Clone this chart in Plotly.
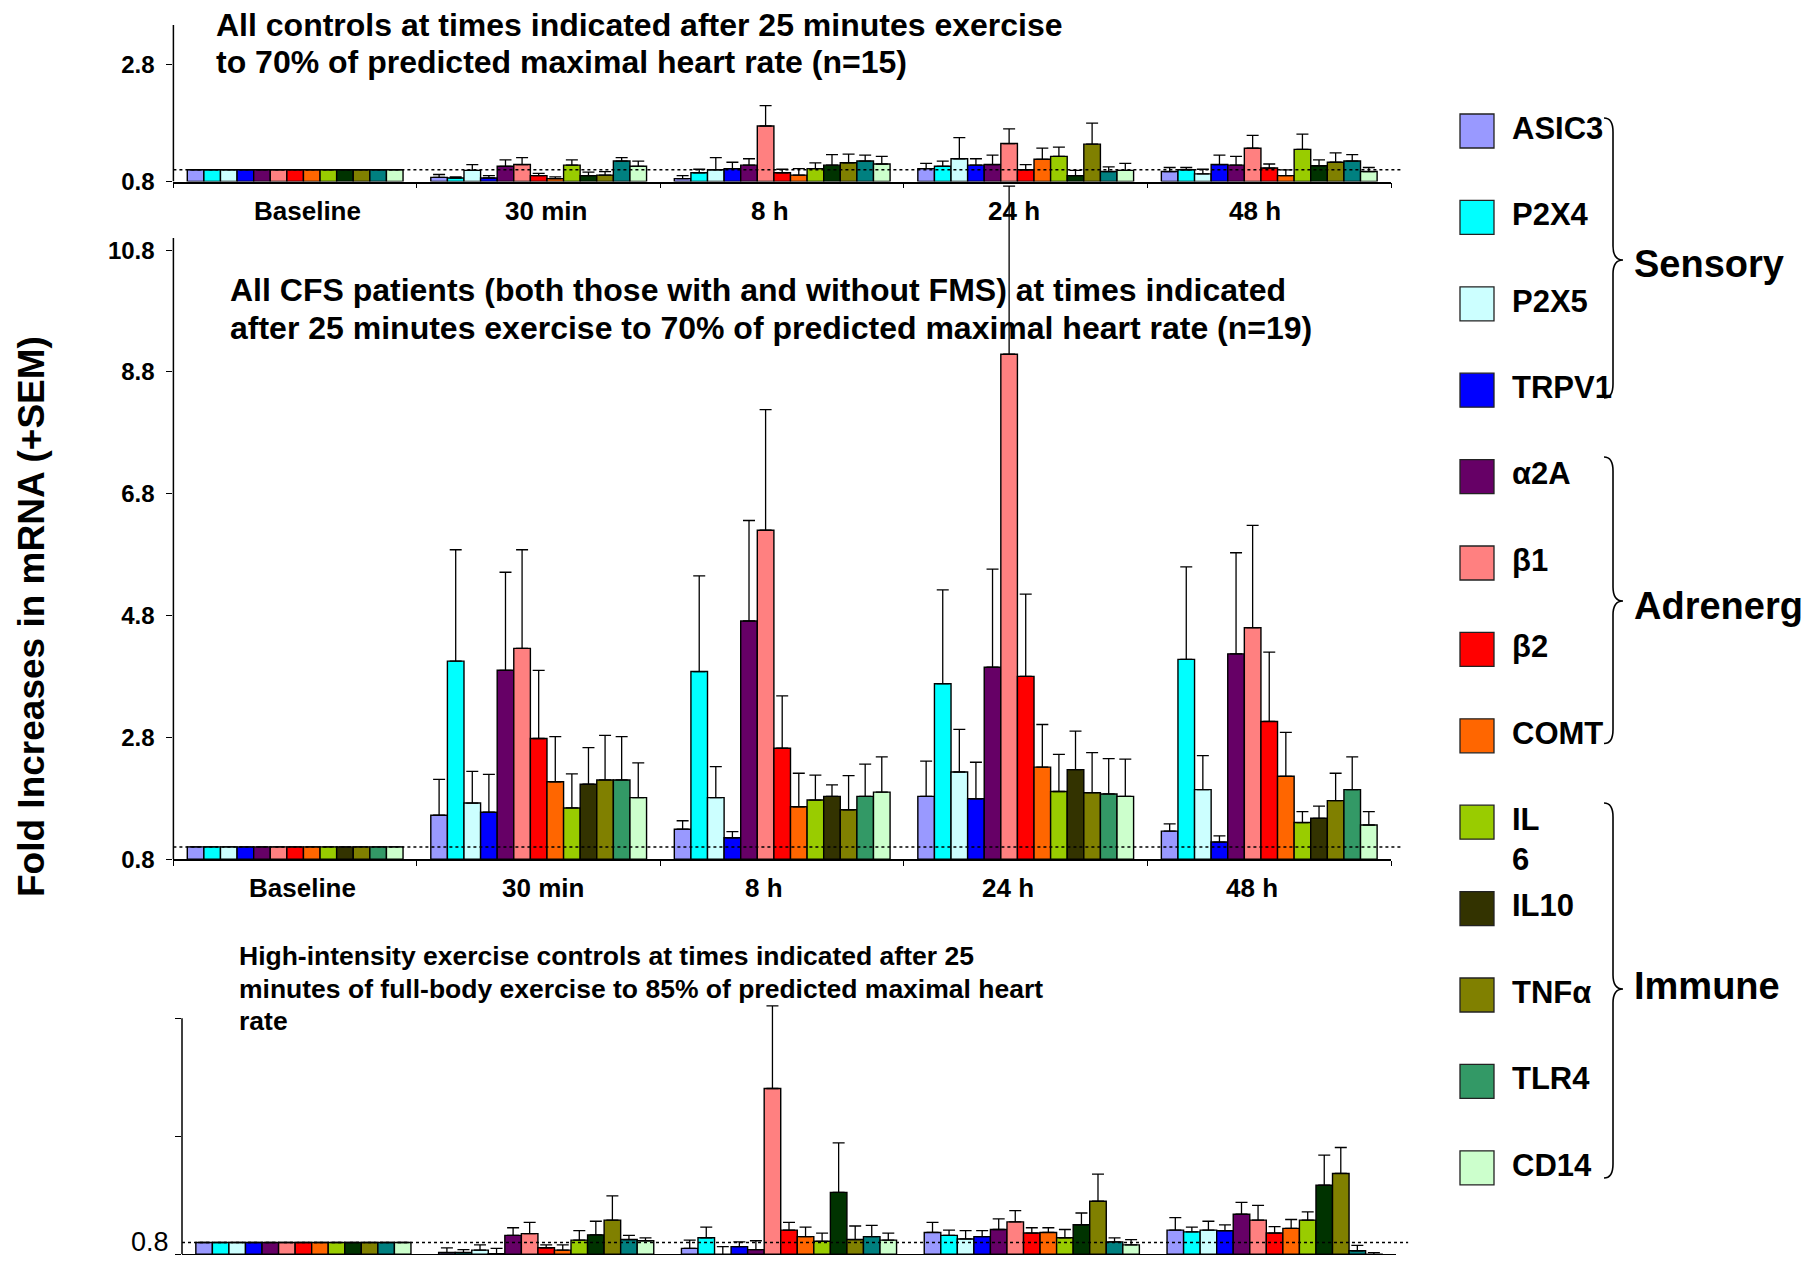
import plotly.graph_objects as go

# screen geometry: the page body has an 8px margin, so the figure is placed at (8, 8)
SCREEN_W, SCREEN_H = 1813, 1263
OFF = 8
W, H = SCREEN_W - OFF, SCREEN_H - 2 * OFF
FONT = "Liberation Sans, Arial, sans-serif"

# ---------------- data ----------------
CATEGORIES = ["Baseline", "30 min", "8 h", "24 h", "48 h"]
GENES = ["ASIC3", "P2X4", "P2X5", "TRPV1", "α2A", "β1", "β2", "COMT",
         "IL6", "IL10", "TNFα", "TLR4", "CD14"]
LEGEND_TEXT = ["ASIC3", "P2X4", "P2X5", "TRPV1", "α2A", "β1", "β2", "COMT",
               "<br>IL<br>6", "IL10", "TNFα", "TLR4", "CD14"]
GROUP_NAMES = ["Sensory", "Adrenergic", "Immune"]

COLORS_CFS = ["#9999FF", "#00FFFF", "#CCFFFF", "#0000FF", "#660066", "#FF8080",
              "#FF0000", "#FF6600", "#99CC00", "#333300", "#808000", "#339966", "#CCFFCC"]
COLORS_CTRL = ["#9999FF", "#00FFFF", "#CCFFFF", "#0000FF", "#660066", "#FF8080",
               "#FF0000", "#FF6600", "#99CC00", "#003300", "#808000", "#008080", "#CCFFCC"]

# rows = genes (order of GENES), columns = CATEGORIES
CTRL_MEAN = [
    [1.0, 0.87, 0.85, 1.02, 0.97],
    [1.0, 0.86, 0.95, 1.06, 1.00],
    [1.0, 0.99, 1.00, 1.19, 0.93],
    [1.0, 0.86, 1.02, 1.08, 1.09],
    [1.0, 1.06, 1.08, 1.09, 1.08],
    [1.0, 1.09, 1.75, 1.45, 1.37],
    [1.0, 0.90, 0.95, 1.00, 1.03],
    [1.0, 0.85, 0.91, 1.18, 0.90],
    [1.0, 1.08, 1.02, 1.23, 1.35],
    [1.0, 0.90, 1.08, 0.90, 1.07],
    [1.0, 0.91, 1.12, 1.44, 1.13],
    [1.0, 1.15, 1.15, 0.97, 1.15],
    [1.0, 1.06, 1.10, 0.99, 0.97],
]
CTRL_SEM = [
    [0, 0.05, 0.05, 0.09, 0.07],
    [0, 0.02, 0.06, 0.09, 0.04],
    [0, 0.10, 0.21, 0.36, 0.08],
    [0, 0.04, 0.11, 0.11, 0.16],
    [0, 0.11, 0.11, 0.16, 0.15],
    [0, 0.12, 0.35, 0.25, 0.22],
    [0, 0.04, 0.06, 0.09, 0.07],
    [0, 0.03, 0.11, 0.19, 0.10],
    [0, 0.09, 0.10, 0.16, 0.26],
    [0, 0.06, 0.18, 0.09, 0.10],
    [0, 0.06, 0.15, 0.36, 0.16],
    [0, 0.06, 0.10, 0.08, 0.11],
    [0, 0.09, 0.13, 0.12, 0.07],
]

CFS_MEAN = [
    [1.0, 1.52, 1.29, 1.83, 1.26],
    [1.0, 4.05, 3.88, 3.68, 4.08],
    [1.0, 1.72, 1.81, 2.23, 1.94],
    [1.0, 1.57, 1.15, 1.79, 1.08],
    [1.0, 3.90, 4.71, 3.95, 4.17],
    [1.0, 4.26, 6.20, 9.09, 4.60],
    [1.0, 2.78, 2.62, 3.80, 3.06],
    [1.0, 2.07, 1.66, 2.31, 2.16],
    [1.0, 1.64, 1.77, 1.91, 1.40],
    [1.0, 2.03, 1.83, 2.27, 1.47],
    [1.0, 2.10, 1.61, 1.89, 1.76],
    [1.0, 2.10, 1.83, 1.87, 1.94],
    [1.0, 1.81, 1.90, 1.83, 1.36],
]
CFS_SEM = [
    [0, 0.59, 0.14, 0.58, 0.12],
    [0, 1.83, 1.57, 1.54, 1.52],
    [0, 0.52, 0.51, 0.70, 0.56],
    [0, 0.62, 0.10, 0.60, 0.10],
    [0, 1.61, 1.65, 1.61, 1.66],
    [0, 1.62, 1.98, 2.76, 1.68],
    [0, 1.12, 0.86, 1.35, 1.14],
    [0, 0.74, 0.55, 0.70, 0.72],
    [0, 0.56, 0.41, 0.61, 0.18],
    [0, 0.60, 0.19, 0.63, 0.20],
    [0, 0.73, 0.56, 0.66, 0.45],
    [0, 0.71, 0.53, 0.58, 0.54],
    [0, 0.57, 0.58, 0.61, 0.22],
]

HI_MEAN = [
    [1.0, 0.83, 0.90, 1.17, 1.21],
    [1.0, 0.83, 1.08, 1.12, 1.18],
    [1.0, 0.87, 0.78, 1.06, 1.21],
    [1.0, 0.81, 0.93, 1.10, 1.20],
    [1.0, 1.12, 0.88, 1.22, 1.48],
    [1.0, 1.15, 3.61, 1.35, 1.38],
    [1.0, 0.91, 1.21, 1.16, 1.16],
    [1.0, 0.87, 1.10, 1.17, 1.24],
    [1.0, 1.04, 1.02, 1.08, 1.38],
    [1.0, 1.13, 1.85, 1.30, 1.97],
    [1.0, 1.38, 1.05, 1.70, 2.17],
    [1.0, 1.05, 1.10, 1.01, 0.86],
    [1.0, 1.03, 1.04, 0.96, 0.76],
]
HI_SEM = [
    [0, 0.08, 0.14, 0.17, 0.21],
    [0, 0.05, 0.18, 0.09, 0.08],
    [0, 0.09, 0.15, 0.14, 0.15],
    [0, 0.09, 0.08, 0.10, 0.10],
    [0, 0.13, 0.15, 0.18, 0.20],
    [0, 0.19, 1.40, 0.19, 0.25],
    [0, 0.05, 0.13, 0.09, 0.11],
    [0, 0.09, 0.16, 0.08, 0.15],
    [0, 0.16, 0.14, 0.14, 0.14],
    [0, 0.23, 0.84, 0.20, 0.51],
    [0, 0.41, 0.23, 0.46, 0.44],
    [0, 0.07, 0.19, 0.07, 0.09],
    [0, 0.05, 0.12, 0.09, 0.07],
]

AXIS_FLOOR = 0.8
REF_LEVEL = 1.0

TITLE_CTRL = ["All controls at times indicated after 25 minutes exercise",
              "to 70% of predicted maximal heart rate (n=15)"]
TITLE_CFS = ["All CFS patients (both those with and without FMS) at times indicated",
             "after 25 minutes exercise to 70% of predicted maximal heart rate (n=19)"]
TITLE_HI = ["High-intensity exercise controls at times indicated after 25",
            "minutes of full-body exercise to 85% of predicted maximal heart",
            "rate"]
Y_TITLE = "Fold Increases in mRNA (+SEM)"


def px(x):
    return (x - OFF) / W


def py(y):
    return 1 - (y - OFF) / H


# panel geometry (screen pixels); axis_top = where the drawn y-axis line ends
PANELS = [
    dict(mean=CTRL_MEAN, sem=CTRL_SEM, colors=COLORS_CTRL, idx="",
         xdom=(173.4, 1391), ydom=(181.5, 25),
         yrange=[0.8, 3.48], axis_top=3.48, tickvals=[0.8, 2.8], ticktext=["0.8", "2.8"],
         bold_ticks=True, label_shift=[12, 7, -12, -12, -14]),
    dict(mean=CFS_MEAN, sem=CFS_SEM, colors=COLORS_CFS, idx="2",
         xdom=(173.4, 1391), ydom=(859.1, 859.1 - 11.1 * 60.9),
         yrange=[0.8, 11.9], axis_top=11.0, tickvals=[0.8, 2.8, 4.8, 6.8, 8.8, 10.8],
         ticktext=["0.8", "2.8", "4.8", "6.8", "8.8", "10.8"],
         bold_ticks=True, label_shift=[7, 4, -18, -17.5, -17]),
    dict(mean=HI_MEAN, sem=HI_SEM, colors=COLORS_CTRL, idx="3",
         xdom=(182, 1396), ydom=(1254.3, 1254.3 - 4.3 * 59.0),
         yrange=[0.8, 5.1], axis_top=4.8, tickvals=[0.8, 2.8, 4.8], ticktext=["0.8", "", ""],
         bold_ticks=False, label_shift=None),
]

fig = go.Figure()
layout = dict(
    template="none",
    width=W, height=H,
    margin=dict(l=0, r=0, t=0, b=0, autoexpand=False),
    paper_bgcolor="white", plot_bgcolor="white",
    barmode="group", bargap=0.114, bargroupgap=0,
    showlegend=False,
    font=dict(family=FONT, color="black"),
)
shapes = []
annotations = []

for p in PANELS:
    xa = "x" + p["idx"]
    ya = "y" + p["idx"]
    for i, g in enumerate(GENES):
        fig.add_trace(go.Bar(
            x=CATEGORIES,
            y=[m - AXIS_FLOOR for m in p["mean"][i]],
            base=AXIS_FLOOR,
            name=g,
            marker=dict(color=p["colors"][i], line=dict(color="black", width=1.4)),
            error_y=dict(type="data", symmetric=False, array=p["sem"][i],
                         arrayminus=[0] * len(CATEGORIES),
                         color="black", thickness=1.3, width=6),
            xaxis=xa, yaxis=ya, showlegend=False,
        ))
    xkey = "xaxis" + p["idx"]
    ykey = "yaxis" + p["idx"]
    layout[xkey] = dict(
        domain=[px(p["xdom"][0]), px(p["xdom"][1])], anchor=ya, automargin=False,
        type="category", categoryorder="array", categoryarray=CATEGORIES,
        showline=True, linecolor="black", linewidth=1.5,
        ticks="outside", tickson="boundaries", ticklen=5, tickwidth=1.2, tickcolor="black",
        showgrid=False, zeroline=False, showticklabels=False,
    )
    layout[ykey] = dict(
        domain=[py(p["ydom"][0]), py(p["ydom"][1])], anchor=xa, automargin=False,
        range=p["yrange"], tickmode="array", tickvals=p["tickvals"], ticktext=p["ticktext"],
        showline=False,
        ticks="outside", ticklen=6, tickwidth=1.2, tickcolor="black",
        showgrid=False, zeroline=False,
        tickfont=dict(family=FONT, size=24 if p["bold_ticks"] else 27, color="black",
                      weight="bold" if p["bold_ticks"] else "normal"),
        ticklabelstandoff=7 if p["bold_ticks"] else 1,
        ticklabeloverflow="allow",
        ticklabelshift=0 if p["bold_ticks"] else -13,
    )
    # category labels under each group (the original places them slightly off-centre)
    if p["label_shift"] is not None:
        for cat, sh in zip(CATEGORIES, p["label_shift"]):
            annotations.append(dict(xref=xa, yref=ya + " domain", x=cat, y=0,
                                    xanchor="center", yanchor="middle", yshift=-29, xshift=sh,
                                    showarrow=False, text=f"<b>{cat}</b>",
                                    font=dict(family=FONT, size=26, color="black")))
    # y-axis line (drawn up to the axis top, error bars may run above it)
    shapes.append(dict(type="line", xref=xa + " domain", yref=ya,
                       x0=0, x1=0, y0=p["yrange"][0], y1=p["axis_top"],
                       line=dict(color="black", width=1.5), layer="above"))
    # dotted reference line at fold change 1
    shapes.append(dict(type="line", xref=xa + " domain", yref=ya,
                       x0=0, x1=1.01, y0=REF_LEVEL, y1=REF_LEVEL,
                       line=dict(color="black", width=1.5, dash="dot"), layer="above"))

# ---------------- legend (as a scatter on its own axes) ----------------
LEG_ROW0, LEG_STEP = 131.0, 86.4
layout["xaxis4"] = dict(domain=[px(1443), 1.0], anchor="y4", automargin=False,
                        range=[-34 / 35, (OFF + W - 1477) / 35],
                        visible=False, fixedrange=True)
layout["yaxis4"] = dict(domain=[py(LEG_ROW0 + 12.5 * LEG_STEP), py(LEG_ROW0 - 0.5 * LEG_STEP)],
                        anchor="x4", type="category", automargin=False,
                        categoryorder="array", categoryarray=GENES,
                        range=[12.5, -0.5], visible=False, fixedrange=True)
fig.add_trace(go.Scatter(
    x=[0] * len(GENES), y=GENES, mode="markers", xaxis="x4", yaxis="y4",
    marker=dict(symbol="square", size=34, color=COLORS_CFS, line=dict(color="#222", width=1.3)),
    cliponaxis=False, showlegend=False, hoverinfo="skip",
))
fig.add_trace(go.Scatter(
    x=[1] * len(GENES), y=GENES, mode="text", text=LEGEND_TEXT, textposition="middle right",
    textfont=dict(family=FONT, size=31, color="black", weight="bold"),
    xaxis="x4", yaxis="y4", cliponaxis=False, showlegend=False, hoverinfo="skip",
))


def brace_path(tip_x, spine_x, point_x, top_y, mid_y, bot_y, r=14):
    def f(x, y):
        return f"{px(x):.5f},{py(y):.5f}"
    return (f"M {f(tip_x, top_y)} Q {f(spine_x, top_y)} {f(spine_x, top_y + r)} "
            f"L {f(spine_x, mid_y - r)} Q {f(spine_x, mid_y)} {f(point_x, mid_y)} "
            f"Q {f(spine_x, mid_y)} {f(spine_x, mid_y + r)} "
            f"L {f(spine_x, bot_y - r)} Q {f(spine_x, bot_y)} {f(tip_x, bot_y)}")


BRACES = [(118, 260, 398), (457, 601, 743.5), (803, 989, 1178)]
GROUP_LABEL_Y = [264, 606, 986]
for (top, mid, bot), name, ly in zip(BRACES, GROUP_NAMES, GROUP_LABEL_Y):
    shapes.append(dict(type="path", xref="paper", yref="paper",
                       path=brace_path(1604, 1613, 1623, top, mid, bot),
                       line=dict(color="black", width=1.6)))
    annotations.append(dict(xref="paper", yref="paper", x=px(1632), y=py(ly),
                            xanchor="left", yanchor="middle", showarrow=False,
                            text=f"<b>{name}</b>",
                            font=dict(family=FONT, size=38, color="black")))


# ---------------- titles ----------------
def add_title(lines, x, ys, size):
    for line, yy in zip(lines, ys):
        annotations.append(dict(xref="paper", yref="paper", x=px(x), y=py(yy),
                                xanchor="left", yanchor="middle", showarrow=False,
                                text=f"<b>{line}</b>", align="left", borderpad=0,
                                font=dict(family=FONT, size=size, color="black")))


add_title(TITLE_CTRL, 215, [25, 62], 32)
add_title(TITLE_CFS, 229, [290, 328], 32)
add_title(TITLE_HI, 238, [956, 989, 1021], 26.5)

annotations.append(dict(xref="paper", yref="paper", x=px(31), y=py(617),
                        xanchor="center", yanchor="middle", showarrow=False,
                        textangle=-90, text=f"<b>{Y_TITLE}</b>",
                        font=dict(family=FONT, size=37, color="black")))

layout["shapes"] = shapes
layout["annotations"] = annotations
fig.update_layout(**layout)

fig.write_html("out.html")
